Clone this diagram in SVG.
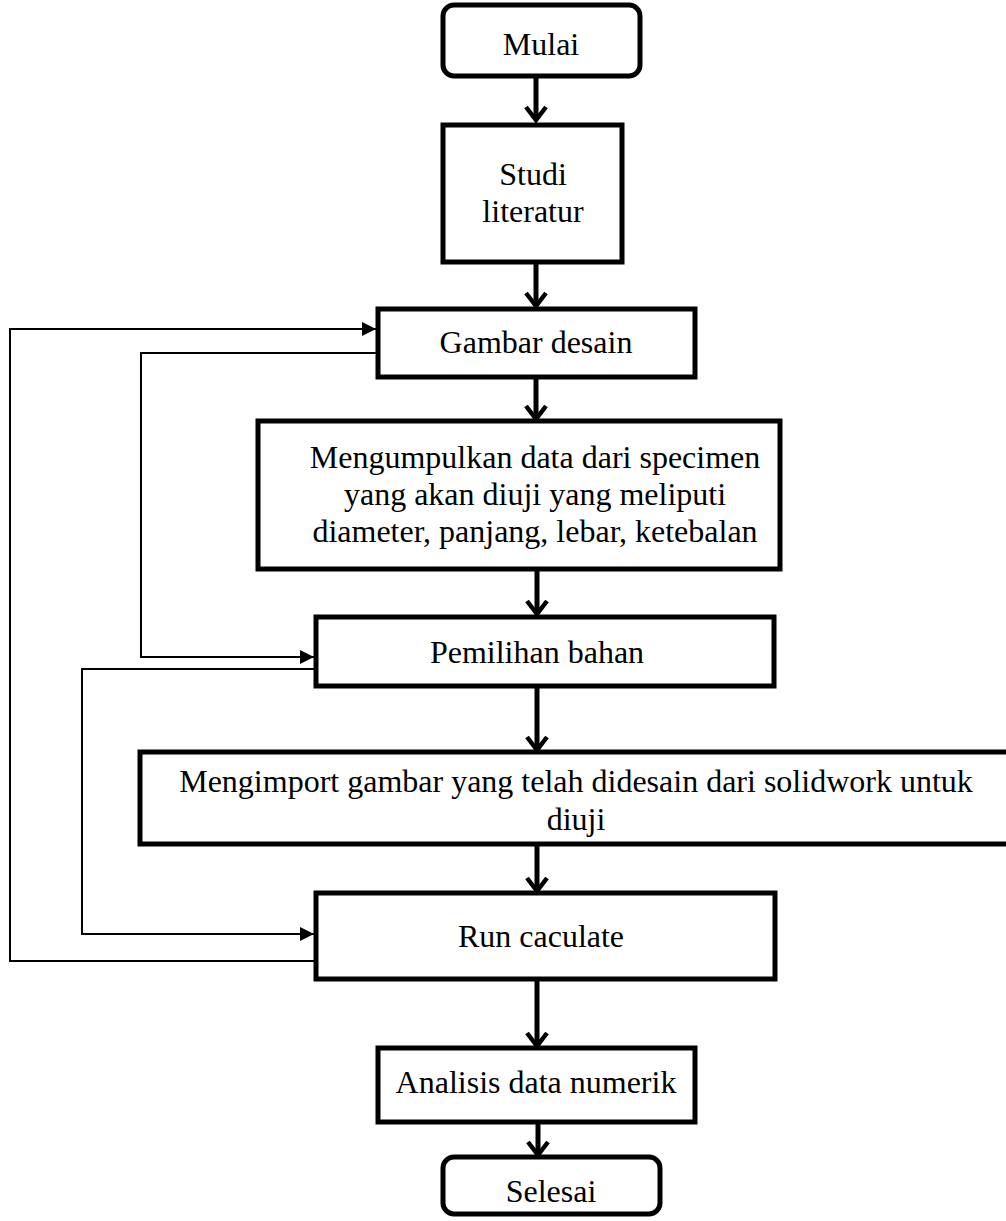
<svg xmlns="http://www.w3.org/2000/svg" width="1006" height="1221" viewBox="0 0 1006 1221">
<style>
.box{fill:#fff;stroke:#000;stroke-width:5}
.t{font-family:'Liberation Serif','Times New Roman',Times,serif;font-size:32px;fill:#000;text-anchor:middle}
.main{fill:none;stroke:#000;stroke-width:5}
.head{fill:none;stroke:#000;stroke-width:4.5}
.fb{fill:none;stroke:#000;stroke-width:2}
</style>
<defs>
<marker id="tri" viewBox="0 0 14 14" refX="14" refY="7" markerWidth="14" markerHeight="14" markerUnits="userSpaceOnUse" orient="auto">
<path d="M0,0 L14,7 L0,14 Z" fill="#000"/>
</marker>
</defs>
<g id="connectors">
<path class="main" d="M536,76 V120"/>
<path class="head" d="M526,107 L536,120 L546,107"/>
<path class="main" d="M536,262 V306"/>
<path class="head" d="M526,293 L536,306 L546,293"/>
<path class="main" d="M536,377 V419"/>
<path class="head" d="M526,406 L536,419 L546,406"/>
<path class="main" d="M537,569 V614"/>
<path class="head" d="M527,601 L537,614 L547,601"/>
<path class="main" d="M537,686 V750"/>
<path class="head" d="M527,737 L537,750 L547,737"/>
<path class="main" d="M537,844 V891"/>
<path class="head" d="M527,878 L537,891 L547,878"/>
<path class="main" d="M537,979 V1046"/>
<path class="head" d="M527,1033 L537,1046 L547,1033"/>
<path class="main" d="M538,1122 V1155"/>
<path class="head" d="M528,1142 L538,1155 L548,1142"/>
<path class="fb" d="M316,961 H10 V329 H376" marker-end="url(#tri)"/>
<path class="fb" d="M378,353 H141 V657 H314" marker-end="url(#tri)"/>
<path class="fb" d="M316,669 H82 V934 H314" marker-end="url(#tri)"/>
</g>
<g id="mulai">
<rect class="box" x="443" y="5" width="197" height="71" rx="11"/>
<text class="t" x="541" y="55">Mulai</text>
</g>
<g id="studi">
<rect class="box" x="443" y="125" width="179" height="137"/>
<text class="t" x="533" y="185">Studi</text>
<text class="t" x="533" y="222">literatur</text>
</g>
<g id="gambar">
<rect class="box" x="378" y="309" width="317" height="68"/>
<text class="t" x="536" y="353">Gambar desain</text>
</g>
<g id="mengumpulkan">
<rect class="box" x="258" y="421" width="522" height="148"/>
<text class="t" x="535" y="468">Mengumpulkan data dari specimen</text>
<text class="t" x="535" y="505">yang akan diuji yang meliputi</text>
<text class="t" x="535" y="542">diameter, panjang, lebar, ketebalan</text>
</g>
<g id="pemilihan">
<rect class="box" x="316" y="617" width="458" height="69"/>
<text class="t" x="537" y="663">Pemilihan bahan</text>
</g>
<g id="mengimport">
<rect class="box" x="140" y="752" width="880" height="92"/>
<text class="t" x="576" y="792">Mengimport gambar yang telah didesain dari solidwork untuk</text>
<text class="t" x="576" y="830">diuji</text>
</g>
<g id="run">
<rect class="box" x="316" y="893" width="459" height="86"/>
<text class="t" x="541" y="947">Run caculate</text>
</g>
<g id="analisis">
<rect class="box" x="378" y="1048" width="317" height="74"/>
<text class="t" x="536" y="1093">Analisis data numerik</text>
</g>
<g id="selesai">
<rect class="box" x="443" y="1157" width="217" height="57" rx="11"/>
<text class="t" x="551" y="1202">Selesai</text>
</g>
</svg>
